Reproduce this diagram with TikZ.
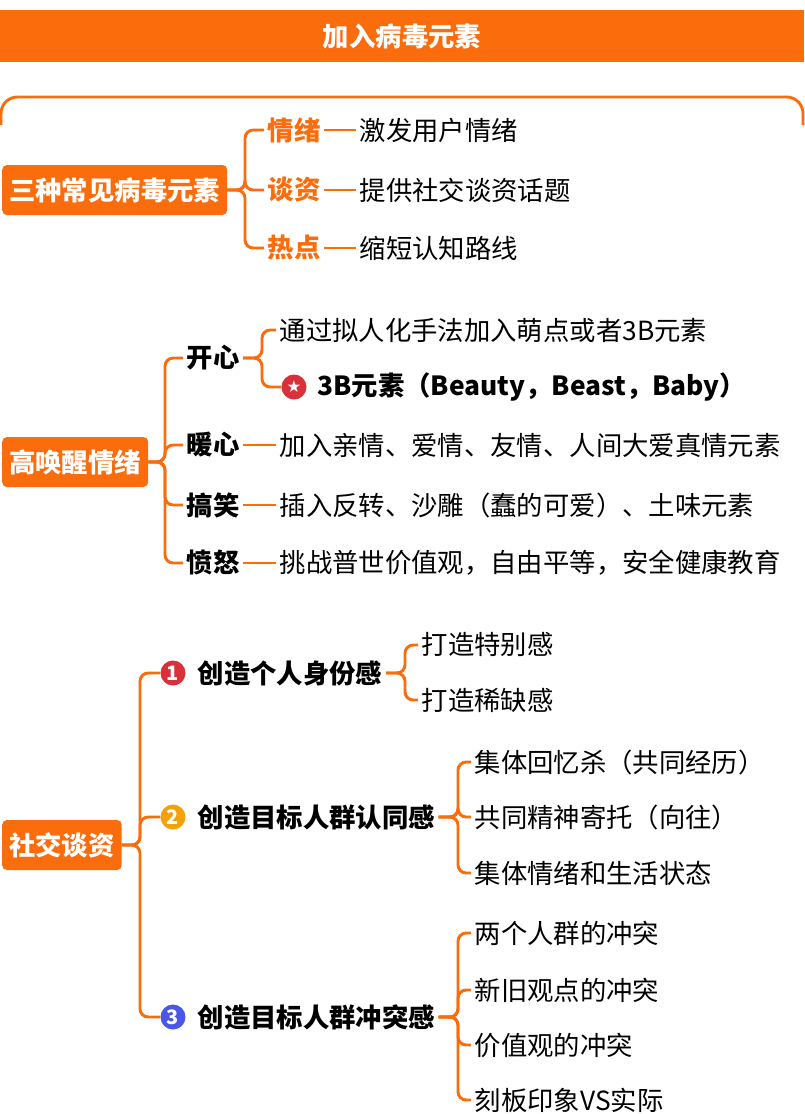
\documentclass[tikz,border=0pt]{standalone}
\usepackage{fontspec}
\setmainfont{Noto Sans CJK SC}
\newfontfamily\symfont{DejaVu Sans}
\usetikzlibrary{positioning}
\definecolor{orng}{RGB}{250,108,12}
\definecolor{badgered}{RGB}{217,48,58}
\definecolor{badgeyel}{RGB}{245,162,10}
\definecolor{badgeblue}{RGB}{74,86,232}
\tikzset{
  root/.style={fill=orng,rounded corners=4pt,text=white,font=\fontsize{22.5}{26}\selectfont\bfseries,inner xsep=6pt,minimum height=50*0.03cm},
  hot/.style={anchor=west,inner sep=3pt,text=orng,font=\fontsize{22.5}{26}\selectfont\bfseries},
  kid/.style={anchor=west,inner sep=3pt,font=\fontsize{22.5}{26}\selectfont\bfseries},
  leaf/.style={anchor=west,inner sep=3pt,font=\fontsize{22.5}{26}\selectfont},
  badge/.style={circle,fill=#1,text=white,inner sep=0pt,minimum size=0.75cm,font=\fontsize{17}{17}\selectfont\bfseries},
  link/.style={draw=orng,line width=2.5pt,rounded corners=7pt}
}
\begin{document}
\begin{tikzpicture}[x=0.03cm,y=-0.03cm]
\useasboundingbox (0,0) rectangle (804,1114);
% title band
\fill[orng] (0,10) rectangle (804,62);
\node[text=white,font=\fontsize{22.5}{26}\selectfont\bfseries] (title) at (402,36) {加入病毒元素};
\draw[orng,line width=2.5pt,rounded corners=14pt] (1,125) -- (1,97) -- (803,97) -- (803,125);

% three elements
\node[root,anchor=west] (elem) at (2,190) {三种常见病毒元素};
\node[hot] (emo) at (264,130) {情绪};
\node[hot] (talk) at (264,190) {谈资};
\node[hot] (hotpt) at (264,248) {热点};
\node[leaf] (emoT) at (356,130) {激发用户情绪};
\node[leaf] (talkT) at (356,190) {提供社交谈资话题};
\node[leaf] (hotT) at (356,248) {缩短认知路线};
\coordinate (e0) at (245,190);
\foreach \c in {emo,talk,hotpt} \draw[link] (elem.east) -- (e0) |- (\c.west);
\draw[link] (emo.east) -- (emoT.west);
\draw[link] (talk.east) -- (talkT.west);
\draw[link] (hotpt.east) -- (hotT.west);

% high arousal emotions
\node[root,anchor=west] (arouse) at (2,462) {高唤醒情绪};
\node[kid] (happy) at (183,358) {开心};
\node[kid] (warm) at (183,445) {暖心};
\node[kid] (funny) at (183,505) {搞笑};
\node[kid] (angry) at (183,563) {愤怒};
\coordinate (a0) at (165,462);
\foreach \c in {happy,warm,funny,angry} \draw[link] (arouse.east) -- (a0) |- (\c.west);
\node[leaf] (cute) at (276,330) {通过拟人化手法加入萌点或者3B元素};
\node[badge=badgered] (star) at (294,387) {\symfont\fontsize{14}{14}\selectfont ★};
\node[kid,right=6pt of star.east,anchor=west] (threeB) {3B元素（Beauty，Beast，Baby）};
\coordinate (h0) at (262,358);
\draw[link] (happy.east) -- (h0) |- (cute.west);
\draw[link] (happy.east) -- (h0) |- (star.west);
\node[leaf] (warmT) at (276,445) {加入亲情、爱情、友情、人间大爱真情元素};
\node[leaf] (funnyT) at (276,505) {插入反转、沙雕（蠢的可爱）、土味元素};
\node[leaf] (angryT) at (276,563) {挑战普世价值观，自由平等，安全健康教育};
\draw[link] (warm.east) -- (warmT.west);
\draw[link] (funny.east) -- (funnyT.west);
\draw[link] (angry.east) -- (angryT.west);

% social currency
\node[root,anchor=west] (social) at (2,845) {社交谈资};
\node[badge=badgered] (b1) at (173,673) {1};
\node[badge=badgeyel] (b2) at (173,817) {2};
\node[badge=badgeblue] (b3) at (173,1017) {3};
\node[kid] (self) at (194,673) {创造个人身份感};
\node[kid] (agree) at (194,817) {创造目标人群认同感};
\node[kid] (clash) at (194,1017) {创造目标人群冲突感};
\coordinate (s0) at (140,845);
\foreach \c in {b1,b2,b3} \draw[link] (social.east) -- (s0) |- (\c.west);
% identity
\coordinate (i0) at (405,673);
\node[leaf] (spec) at (418,645) {打造特别感};
\node[leaf] (rare) at (418,700) {打造稀缺感};
\foreach \c in {spec,rare} \draw[link] (self.east) -- (i0) |- (\c.west);
% recognition
\coordinate (g0) at (458,817);
\node[leaf] (memo) at (471,762) {集体回忆杀（共同经历）};
\node[leaf] (spirit) at (471,817) {共同精神寄托（向往）};
\node[leaf] (mood) at (471,873) {集体情绪和生活状态};
\foreach \c in {memo,spirit,mood} \draw[link] (agree.east) -- (g0) |- (\c.west);
% conflict
\coordinate (c0) at (458,1017);
\node[leaf] (groups) at (471,933) {两个人群的冲突};
\node[leaf] (views) at (471,990) {新旧观点的冲突};
\node[leaf] (values) at (471,1045) {价值观的冲突};
\node[leaf] (stereo) at (471,1100) {刻板印象VS实际};
\foreach \c in {groups,views,values,stereo} \draw[link] (clash.east) -- (c0) |- (\c.west);
\end{tikzpicture}
\end{document}
